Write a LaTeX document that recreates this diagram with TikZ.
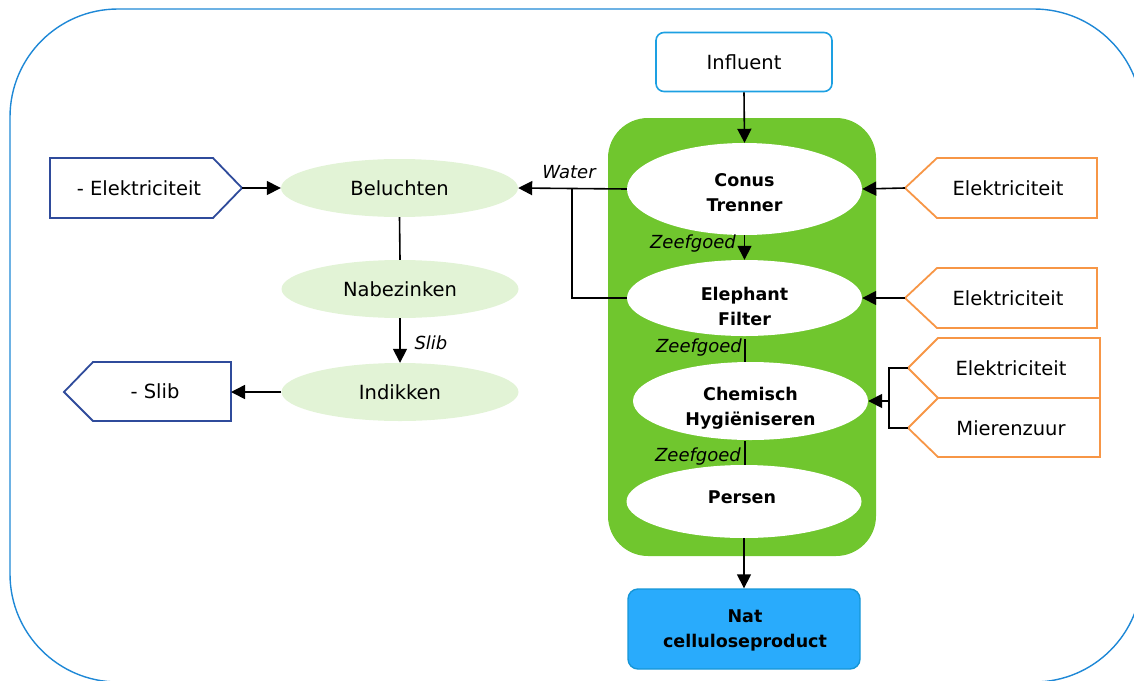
\documentclass[tikz,border=0pt]{standalone}
\usepackage{fontspec}
\setmainfont{DejaVu Sans}
\usetikzlibrary{shapes.geometric,arrows.meta}
\definecolor{frameblue}{RGB}{30,136,214}
\definecolor{procgreen}{RGB}{112,198,46}
\definecolor{lightgreen}{RGB}{226,243,214}
\definecolor{inblue}{RGB}{29,160,226}
\definecolor{natfill}{RGB}{41,171,252}
\definecolor{natborder}{RGB}{22,150,215}
\definecolor{outorange}{RGB}{247,150,70}
\definecolor{navyline}{RGB}{47,75,155}
\begin{document}
\begin{tikzpicture}[x=1pt,y=-1pt,
  txt/.style={font=\fontsize{19.5}{25}\selectfont},
  btxt/.style={font=\fontsize{17.5}{25}\selectfont\bfseries, align=center},
  itxt/.style={font=\fontsize{18}{22}\selectfont\itshape},
  procell/.style={ellipse, fill=white, inner sep=0pt, minimum width=235pt},
  sideell/.style={ellipse, fill=lightgreen, inner sep=0pt, minimum width=237pt, minimum height=58pt, txt},
  arr/.style={line width=1.6pt, -{Triangle[length=14pt,width=14pt]}},
  conn/.style={line width=1.6pt},
  orangebox/.style={draw=outorange, line width=1.8pt, fill=white},
  navybox/.style={draw=navyline, line width=1.8pt, fill=white}]
\useasboundingbox (0,0) rectangle (1134,680);
% outer frame
\draw[frameblue, line width=1.4pt, rounded corners=108pt] (10,9) rectangle (1142,682);
% process container
\fill[procgreen, rounded corners=40pt] (608,118) rectangle (876,556);
% process ellipses
\node[procell, minimum height=92pt] (conus) at (744.5,189) {};
\node[btxt] (conust) at (744.5,193) {Conus\\Trenner};
\node[procell, minimum height=76pt] (eleph) at (744.5,298) {};
\node[btxt] (elepht) at (744.5,306) {Elephant\\Filter};
\node[procell, minimum height=78pt] (chem) at (750.5,401) {};
\node[btxt] (chemt) at (750.5,408) {Chemisch\\Hygiëniseren};
\node[procell, minimum height=73pt] (pers) at (744,501.5) {};
\node[btxt] (perst) at (742,497) {Persen};
% influent
\node[draw=inblue, line width=1.6pt, fill=white, rounded corners=8pt, minimum width=176pt, minimum height=59pt, inner sep=0pt, txt] (infl) at (744,62) {Influent};
% nat celluloseproduct
\node[draw=natborder, line width=1.4pt, fill=natfill, rounded corners=10pt, minimum width=232pt, minimum height=80pt, inner sep=0pt] (nat) at (744,629) {};
\node[btxt] (natt) at (745,630) {Nat\\celluloseproduct};
% side ellipses
\node[sideell] (bel) at (399.5,188) {Beluchten};
\node[sideell] (nabe) at (400,289) {Nabezinken};
\node[sideell] (indi) at (400,392) {Indikken};
% left pentagons
\draw[navybox] (50,158) -- (213,158) -- (242,188) -- (213,218) -- (50,218) -- cycle;
\coordinate (elLtip) at (242,188);
\node[txt] (elL) at (139,188) {- Elektriciteit};
\draw[navybox] (64,392) -- (93,362) -- (231,362) -- (231,421) -- (93,421) -- cycle;
\coordinate (slibR) at (231,392);
\node[txt] (slibL) at (155,391) {- Slib};
% right pentagons
\draw[orangebox] (905,188) -- (937,158) -- (1097,158) -- (1097,218) -- (937,218) -- cycle;
\coordinate (el1tip) at (905,188);
\node[txt] (el1) at (1008,188) {Elektriciteit};
\draw[orangebox] (905,298) -- (937,268) -- (1097,268) -- (1097,328) -- (937,328) -- cycle;
\coordinate (el2tip) at (905,298);
\node[txt] (el2) at (1008,298) {Elektriciteit};
\draw[orangebox] (908,368) -- (938,338) -- (1100,338) -- (1100,398) -- (938,398) -- cycle;
\coordinate (el3tip) at (908,368);
\node[txt] (el3) at (1011,368) {Elektriciteit};
\draw[orangebox] (908,428) -- (938,398) -- (1100,398) -- (1100,457) -- (938,457) -- cycle;
\coordinate (mztip) at (908,428);
\node[txt] (mz) at (1011,428) {Mierenzuur};
% connectors main line
\draw[arr] (infl.south) -- (conus.north);
\draw[arr] (conus.south) -- (eleph.north);
\coordinate (z2a) at (745,339);
\coordinate (z2b) at (745,362);
\draw[conn] (z2a) -- (z2b);
\coordinate (z3a) at (745,441);
\coordinate (z3b) at (745,465);
\draw[conn] (z3a) -- (z3b);
\draw[arr] (pers.south) -- (nat.north);
\node[itxt] (zg1) at (693,244) {Zeefgoed};
\node[itxt] (zg2) at (699,348) {Zeefgoed};
\node[itxt] (zg3) at (698,457) {Zeefgoed};
% energy inputs
\draw[arr] (el1tip) -- (conus.east);
\draw[arr] (el2tip) -- (eleph.east);
\coordinate (cjt) at (889,368);
\coordinate (cjb) at (889,428);
\coordinate (cj) at (889,401);
\draw[conn] (el3tip) -- (cjt) -- (cjb) -- (mztip);
\draw[arr] (cj) -- (chem.east);
% water
\draw[arr] (conus.west) -- (bel.east);
\coordinate (wj) at (572,188);
\draw[conn] (eleph.west) -| (wj);
\node[itxt] (water) at (569,172) {Water};
% left chain
\draw[arr] (elLtip) -- (bel.west);
\draw[conn] (bel.south) -- (nabe.north);
\draw[arr] (nabe.south) -- (indi.north);
\node[itxt, anchor=west] (slibtxt) at (411,343) {Slib};
\draw[arr] (indi.west) -- (slibR);
\end{tikzpicture}
\end{document}
